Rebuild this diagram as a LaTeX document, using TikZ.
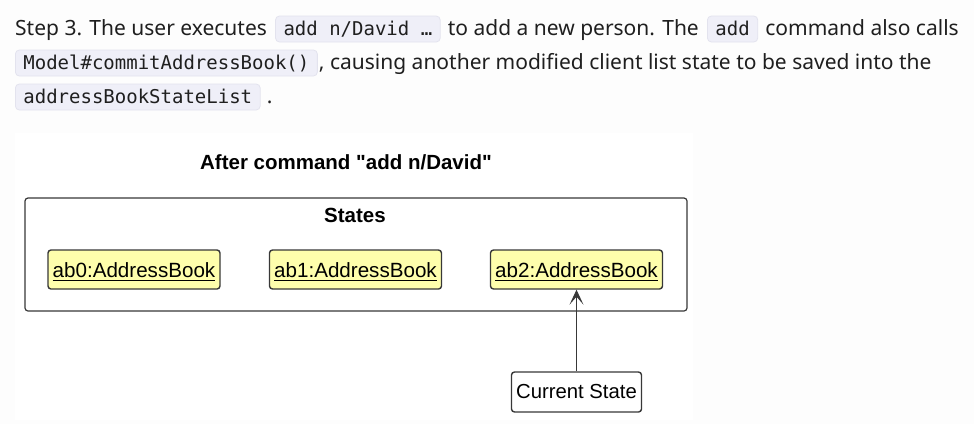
\documentclass[tikz,border=0pt]{standalone}
\usepackage{fontspec}
\setmainfont{Noto Sans}
\newfontfamily\codefont{DejaVu Sans Mono}
\newfontfamily\umlfont{Liberation Sans}
\usetikzlibrary{arrows.meta}
\definecolor{codebg}{HTML}{EFEFF8}
\definecolor{codeborder}{HTML}{E3E3EE}
\definecolor{objfill}{HTML}{FEFEAC}
\definecolor{umlline}{HTML}{383838}
\definecolor{bodytxt}{HTML}{1F1F1F}
\definecolor{pagebg}{HTML}{FDFDFD}
\newcommand{\ulbox}[1]{\vtop{\hbox{#1}\kern2.5pt\hrule height 1.5pt}}
\begin{document}
\begin{tikzpicture}[x=1pt,y=-1pt,
  body/.style={inner sep=0pt, anchor=base west, font=\fontsize{21}{25}\selectfont, text=bodytxt},
  code/.style={inner xsep=8pt, inner ysep=0pt, anchor=base west, font=\codefont\fontsize{19}{23}\selectfont,
    fill=codebg, draw=codeborder, line width=0.8pt, rounded corners=4pt, text height=19pt, text depth=7pt, text=bodytxt},
  umltitle/.style={anchor=base, inner sep=0pt, font=\umlfont\bfseries\fontsize{20.5}{24}\selectfont, text=black},
  pkgbox/.style={draw=umlline, line width=1.2pt, rounded corners=3pt, fill=white, inner sep=0pt},
  obj/.style={draw=umlline, line width=1.4pt, rounded corners=3pt, fill=objfill, minimum width=172pt, minimum height=39pt,
    inner sep=0pt, text height=20pt, text depth=5pt, font=\umlfont\fontsize{20.6}{24}\selectfont},
  ptr/.style={draw=umlline, line width=1.4pt, rounded corners=3pt, fill=white, minimum width=130pt, minimum height=40pt,
    inner sep=0pt, font=\umlfont\fontsize{20.3}{24}\selectfont},
  link/.style={draw=umlline, line width=1.6pt, -{Stealth[length=15pt,width=14pt,inset=8pt,line width=1pt]}}
]
\useasboundingbox (0,0) rectangle (974,424);
\fill[pagebg] (0,0) rectangle (974,424);
% paragraph
\node[body] (l1a) at (15,35) {Step 3. The user executes};
\node[code] (l1b) at ([xshift=8pt]l1a.base east) {add n/David …};
\node[body] (l1c) at ([xshift=7pt]l1b.base east) {to add a new person. The};
\node[code] (l1d) at ([xshift=8pt]l1c.base east) {add};
\node[body] (l1e) at ([xshift=7pt]l1d.base east) {command also calls};
\node[code] (l2a) at (15,69) {Model\#commitAddressBook()};
\node[body] (l2b) at ([xshift=1pt]l2a.base east) {, causing another modified client list state to be saved into the};
\node[code] (l3a) at (15,103) {addressBookStateList};
\node[body] (l3b) at ([xshift=6pt]l3a.base east) {.};
% diagram
\fill[white] (15,133) rectangle (693,420);
\node[umltitle] (title) at (346,169) {After command "add n/David"};
\node[pkgbox, minimum width=662pt, minimum height=113pt] (pkg) at (356,254.5) {};
\node[umltitle] (pkgname) at (355,222) {States};
\node[obj] (ab0) at (134,269.5) {\ulbox{ab0:AddressBook}};
\node[obj] (ab1) at (355.5,269.5) {\ulbox{ab1:AddressBook}};
\node[obj] (ab2) at (576.5,269.5) {\ulbox{ab2:AddressBook}};
\node[ptr] (cs) at (576.5,392) {Current State};
\draw[link] (cs) -- (ab2);
\end{tikzpicture}
\end{document}
